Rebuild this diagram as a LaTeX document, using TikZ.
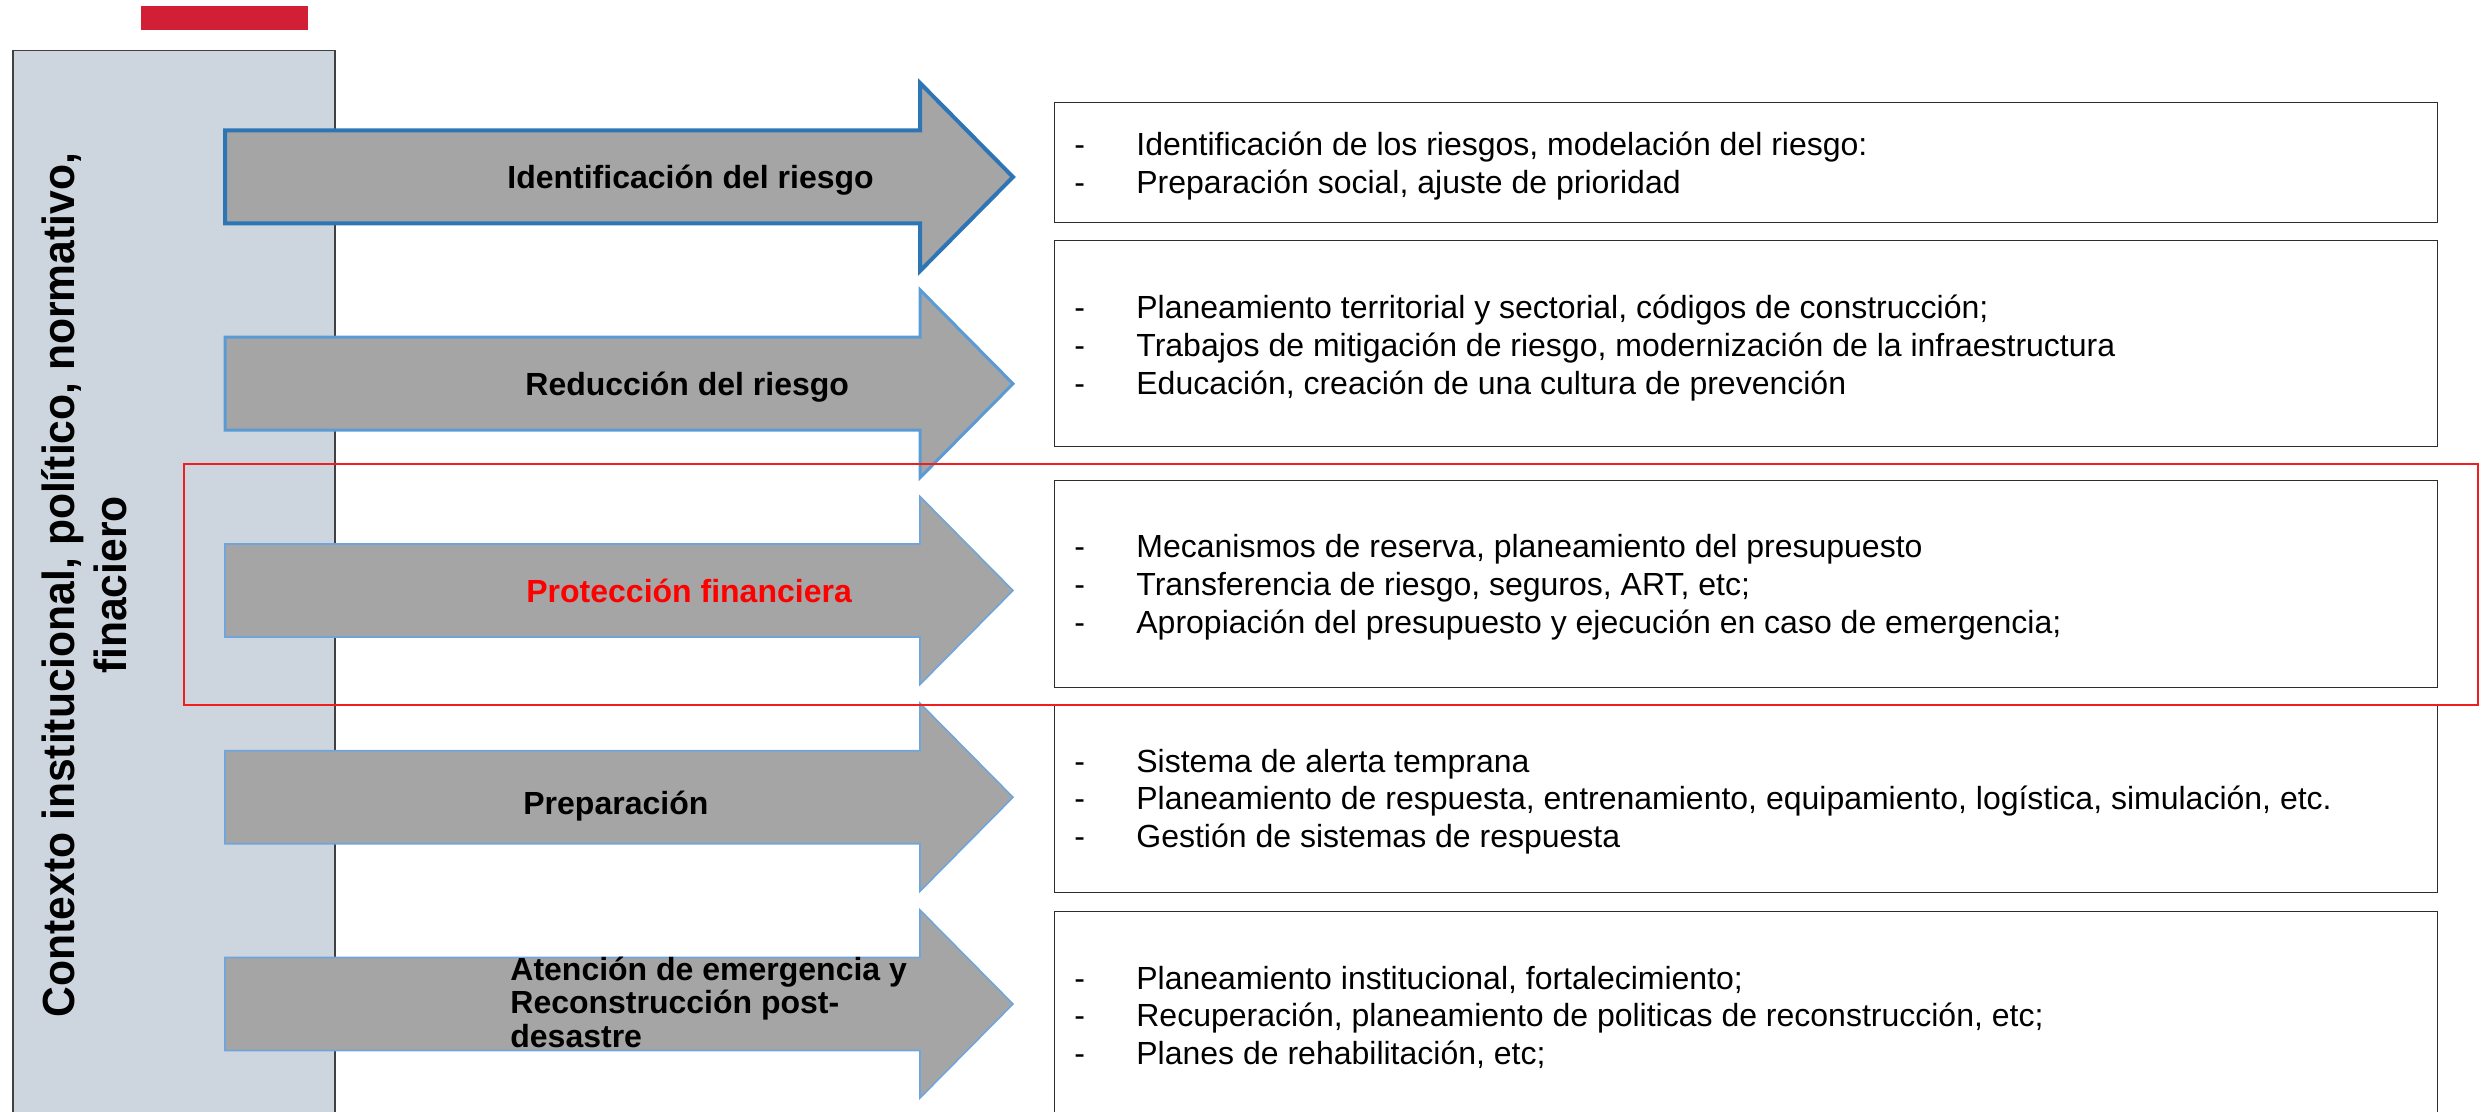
\documentclass[tikz,border=0pt]{standalone}
\usepackage{fontspec}
\setmainfont{Liberation Sans}
\usepackage{graphicx}
\usepackage{array}
\definecolor{panelfill}{RGB}{205,213,223}
\definecolor{panelline}{RGB}{64,64,64}
\definecolor{arrowfill}{RGB}{165,165,165}
\definecolor{arrowA}{RGB}{46,117,182}
\definecolor{arrowB}{RGB}{91,155,213}
\definecolor{arrowC}{RGB}{112,165,220}
\definecolor{redbar}{RGB}{209,32,54}
\definecolor{boxline}{RGB}{45,45,45}
\definecolor{hlred}{RGB}{240,30,30}
\begin{document}
\begin{tikzpicture}[x=0.5pt,y=-0.5pt,
  arrowshape/.style={fill=arrowfill, line join=miter},
  arrowlabel/.style={font=\fontsize{16}{16.75}\selectfont\bfseries, inner sep=0pt, anchor=base west},
  infobox/.style={draw=boxline, line width=0.7pt, fill=white, inner sep=0pt, anchor=north west, minimum width=691.5pt},
  infotext/.style={inner sep=0pt, anchor=base west, font=\fontsize{16}{18.85}\selectfont},
  ctxlabel/.style={inner sep=0pt, anchor=base, rotate=90, font=\fontsize{22.5}{25.5}\selectfont\bfseries},
]
\useasboundingbox (0,0) rectangle (2486,1112);
\clip (0,0) rectangle (2486,1112);

% left context panel
\node[draw=panelline, line width=0.75pt, fill=panelfill, inner sep=0pt, anchor=north west,
      minimum width=161pt, minimum height=540pt] (panel) at (12,50) {};
% red bar on top
\node[fill=redbar, inner sep=0pt, anchor=north west, minimum width=83.5pt, minimum height=12pt] (bar) at (141,6) {};

% arrows
\foreach \cy/\col/\lw in {177/arrowA/2pt, 383.75/arrowB/1.5pt, 590.5/arrowC/0.8pt, 797.25/arrowC/0.8pt, 1004/arrowC/0.8pt}{
  \draw[arrowshape, draw=\col, line width=\lw]
    (225,\cy-46.5) -- (920,\cy-46.5) -- (920,\cy-94) -- (1013,\cy)
    -- (920,\cy+94) -- (920,\cy+46.5) -- (225,\cy+46.5) -- cycle;
}

% arrow labels
\node[arrowlabel] (a1) at (507,189) {Identificación del riesgo};
\node[arrowlabel] (a2) at (525,396) {Reducción del riesgo};
\node[arrowlabel, text=red] (a3) at (526,603) {Protección financiera};
\node[arrowlabel] (a4) at (523,814) {Preparación};
\node[arrowlabel] (a5) at (510,980) {\begin{tabular}[t]{@{}l@{}}Atención de emergencia y\\Reconstrucción post-\\desastre\end{tabular}};

% vertical context text
\node[ctxlabel] (ctx1) at (75,585) {\scalebox{0.947}[1]{Contexto institucional, político, normativo,}};
\node[ctxlabel] (ctx2) at (126,585) {\scalebox{0.947}[1]{finaciero}};

% info boxes
\node[infobox, minimum height=60pt] (b1) at (1054,102) {};
\node[infobox, minimum height=103pt] (b2) at (1054,240) {};
\node[infobox, minimum height=103.5pt] (b3) at (1054,480) {};
\node[infobox, minimum height=93.5pt] (b4) at (1054,705) {};
\node[infobox, minimum height=105pt] (b5) at (1054,911) {};

\node[infotext] (t1) at (1074,156) {\begin{tabular}[t]{@{}p{31pt}@{}l@{}}
- & Identificación de los riesgos, modelación del riesgo:\\
- & Preparación social, ajuste de prioridad
\end{tabular}};
\node[infotext] (t2) at (1074,319) {\begin{tabular}[t]{@{}p{31pt}@{}l@{}}
- & Planeamiento territorial y sectorial, códigos de construcción;\\
- & Trabajos de mitigación de riesgo, modernización de la infraestructura\\
- & Educación, creación de una cultura de prevención
\end{tabular}};
\node[infotext] (t3) at (1074,558) {\begin{tabular}[t]{@{}p{31pt}@{}l@{}}
- & Mecanismos de reserva, planeamiento del presupuesto\\
- & Transferencia de riesgo, seguros, ART, etc;\\
- & Apropiación del presupuesto y ejecución en caso de emergencia;
\end{tabular}};
\node[infotext] (t4) at (1074,772) {\begin{tabular}[t]{@{}p{31pt}@{}l@{}}
- & Sistema de alerta temprana\\
- & Planeamiento de respuesta, entrenamiento, equipamiento, logística, simulación, etc.\\
- & Gestión de sistemas de respuesta
\end{tabular}};
\node[infotext] (t5) at (1074,989) {\begin{tabular}[t]{@{}p{31pt}@{}l@{}}
- & Planeamiento institucional, fortalecimiento;\\
- & Recuperación, planeamiento de politicas de reconstrucción, etc;\\
- & Planes de rehabilitación, etc;
\end{tabular}};

% red highlight frame
\node[draw=hlred, line width=0.85pt, inner sep=0pt, anchor=north west,
      minimum width=1147pt, minimum height=120.5pt] (hl) at (183,463) {};
\end{tikzpicture}
\end{document}
